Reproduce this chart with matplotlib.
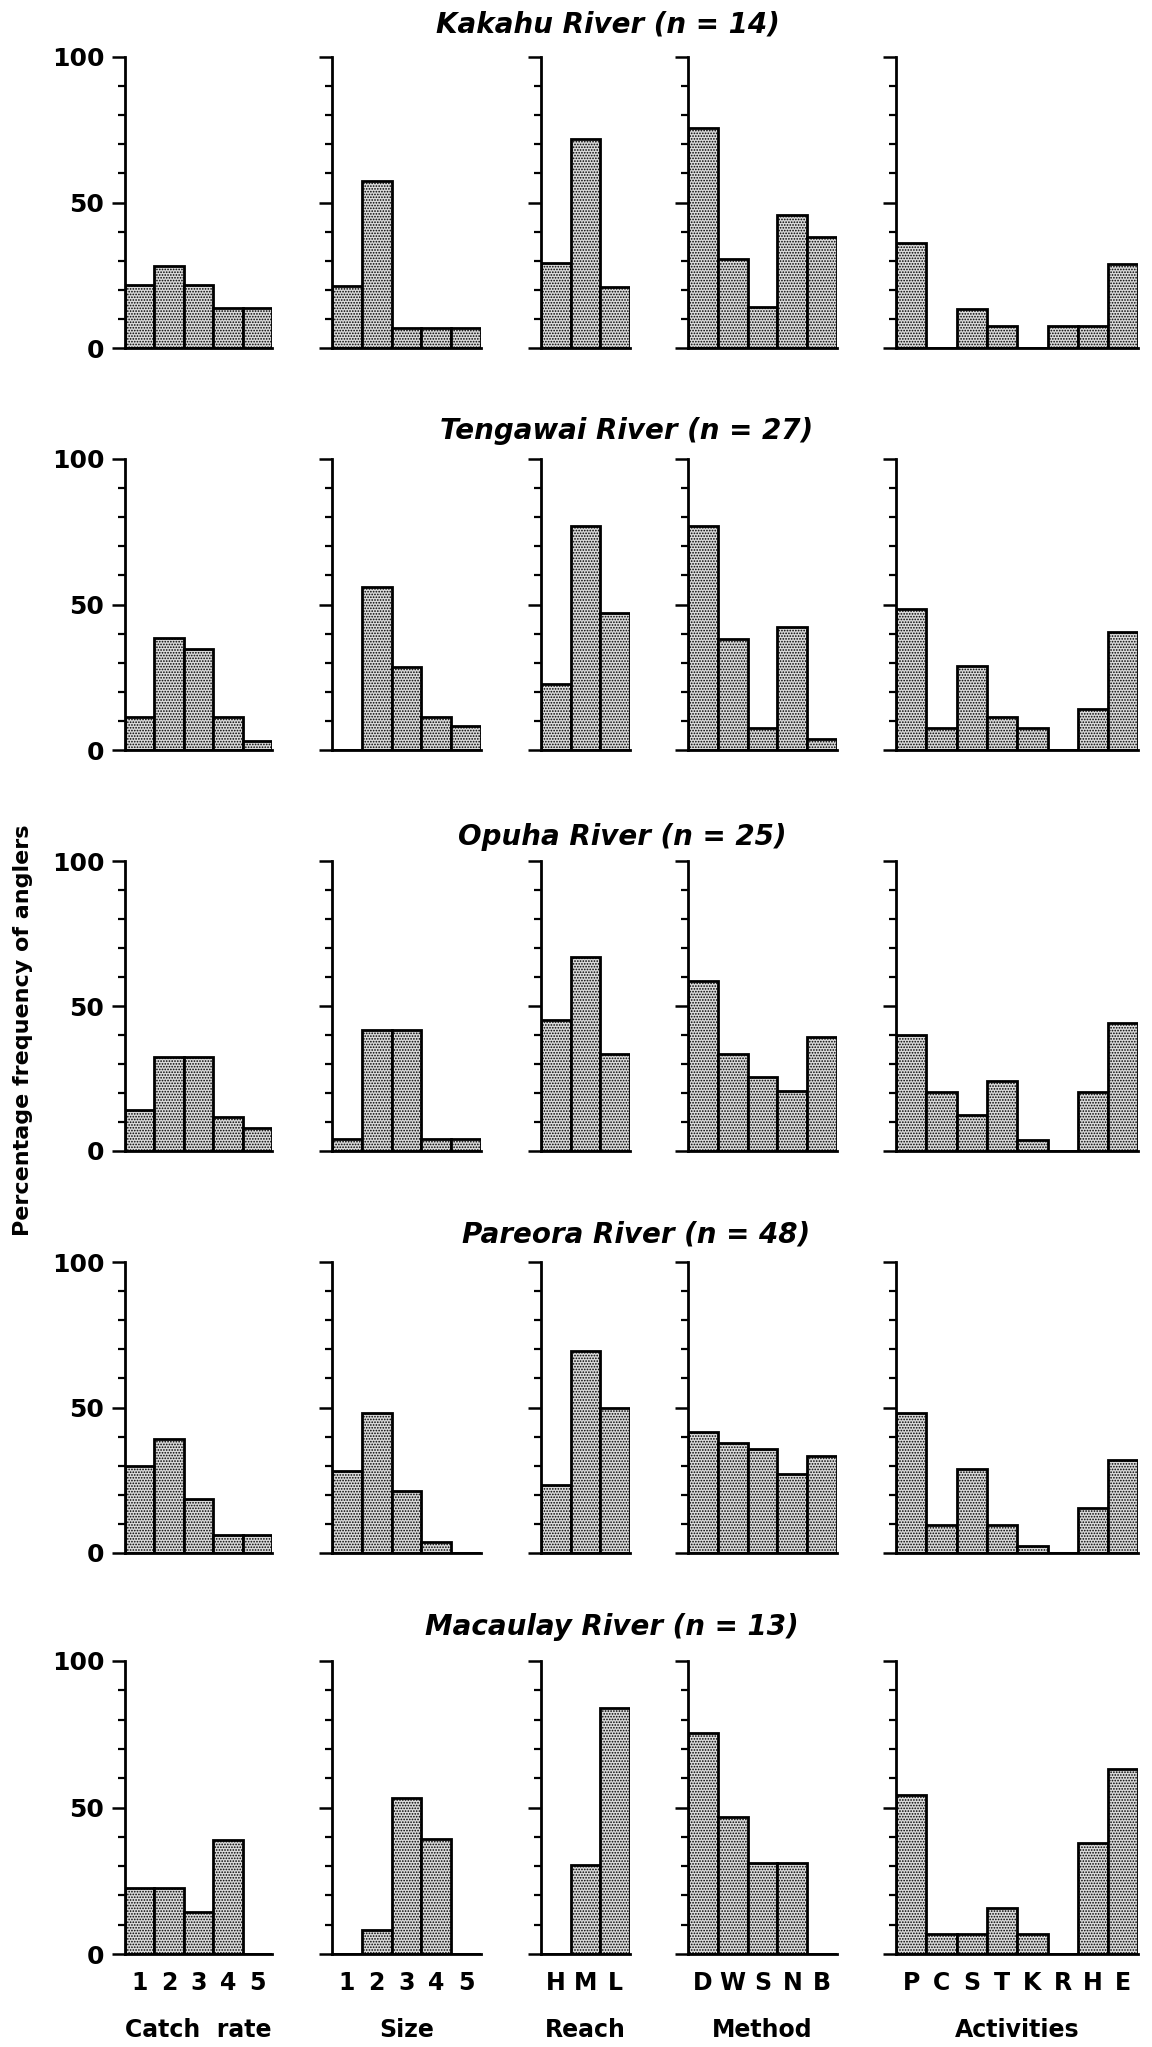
import matplotlib
matplotlib.use("Agg")
import matplotlib.pyplot as plt
import numpy as np

# values (percentage frequency of anglers)
rivers = ["Kakahu", "Tengawai", "Opuha", "Pareora", "Macaulay"]
n_anglers = [14, 27, 25, 48, 13]

catch_labels = ["1", "2", "3", "4", "5"]
size_labels = ["1", "2", "3", "4", "5"]
reach_labels = ["H", "M", "L"]
method_labels = ["D", "W", "S", "N", "B"]
activity_labels = ["P", "C", "S", "T", "K", "R", "H", "E"]
panel_titles = ["Catch  rate", "Size", "Reach", "Method", "Activities"]

catch_rate = [
    [21.7, 28.2, 21.7, 13.7, 13.7],
    [11.2, 38.4, 34.6, 11.5, 3.2],
    [14.1, 32.5, 32.5, 11.8, 7.8],
    [30.0, 39.2, 18.5, 6.1, 6.1],
    [22.4, 22.6, 14.4, 38.9, 0],
]
size = [
    [21.4, 57.5, 6.9, 6.9, 6.9],
    [0, 55.9, 28.4, 11.5, 8.1],
    [4.0, 41.6, 41.6, 4.2, 4.2],
    [28.2, 48.1, 21.3, 3.8, 0],
    [0, 8.3, 53.2, 39.2, 0],
]
reach = [
    [29.1, 71.8, 20.9],
    [22.8, 77.1, 47.0],
    [45.2, 66.9, 33.3],
    [23.3, 69.4, 49.9],
    [0, 30.5, 84.0],
]
method = [
    [75.6, 30.5, 14.1, 45.8, 38.1],
    [76.9, 38.0, 7.7, 42.4, 3.8],
    [58.7, 33.6, 25.5, 20.6, 39.2],
    [41.5, 37.8, 35.6, 27.0, 33.3],
    [75.3, 46.6, 31.0, 31.0, 0],
]
activities = [
    [36.0, 0, 13.5, 7.4, 0, 7.4, 7.4, 28.7],
    [48.3, 7.7, 28.8, 11.4, 7.7, 0, 14.0, 40.5],
    [39.9, 20.2, 12.5, 24.2, 3.8, 0, 20.2, 44.3],
    [48.0, 9.7, 28.7, 9.7, 2.5, 0, 15.5, 31.8],
    [54.3, 6.9, 6.9, 15.8, 6.9, 0, 38.0, 63.2],
]

columns = [(catch_rate, catch_labels), (size, size_labels), (reach, reach_labels),
           (method, method_labels), (activities, activity_labels)]

# layout in pixels
W, H = 1152, 2047
col_x0 = [125, 332, 541, 688, 896]
col_w = [29.4, 29.8, 29.7, 29.8, 30.3]
row_top = [57, 459, 861, 1262, 1661]
row_zero = [348, 750, 1151, 1553, 1954]
title_x = [608, 627, 622, 636, 612]
title_y = [25, 431, 837, 1235, 1627]

plt.rcParams['font.family'] = 'DejaVu Sans'
plt.rcParams['font.weight'] = 'bold'
plt.rcParams['hatch.color'] = '#a6a6a6'
plt.rcParams['hatch.linewidth'] = 0.8

fig = plt.figure(figsize=(W / 100, H / 100), dpi=100)

for i in range(5):
    for j, (data, labels) in enumerate(columns):
        n = len(labels)
        left = col_x0[j] / W
        width = n * col_w[j] / W
        bottom = 1 - row_zero[i] / H
        height = (row_zero[i] - row_top[i]) / H
        ax = fig.add_axes([left, bottom, width, height])
        x = np.arange(n) + 0.5
        ax.bar(x, data[i], width=1.0, color='#dadada', edgecolor='black',
               linewidth=2.0, hatch='......')
        ax.set_xlim(0, n)
        ax.set_ylim(0, 100)
        ax.spines['top'].set_visible(False)
        ax.spines['right'].set_visible(False)
        ax.spines['left'].set_linewidth(2.0)
        ax.spines['bottom'].set_linewidth(2.0)
        ax.set_yticks([0, 50, 100])
        ax.set_yticks(np.arange(0, 101, 10), minor=True)
        ax.tick_params(axis='y', which='major', length=9.5, width=1.8, pad=5.5,
                       labelsize=18)
        ax.tick_params(axis='y', which='minor', length=5, width=1.6)
        if j != 0:
            ax.set_yticklabels([])
        ax.set_xticks(x)
        ax.tick_params(axis='x', length=0, pad=12, labelsize=17)
        if i == 4:
            ax.set_xticklabels(labels)
        else:
            ax.set_xticklabels([])

    fig.text(title_x[i] / W, 1 - title_y[i] / H,
             f"{rivers[i]} River (n = {n_anglers[i]})",
             ha='center', va='center', fontsize=20, fontstyle='italic',
             fontweight='bold')

# axis titles under the bottom row
for j, (data, labels) in enumerate(columns):
    cx = col_x0[j] + len(labels) * col_w[j] / 2
    fig.text(cx / W, 1 - 2030 / H, panel_titles[j], ha='center', va='center',
             fontsize=17, fontweight='bold')

fig.text(23 / W, 1 - 1030 / H, "Percentage frequency of anglers", rotation=90,
         ha='center', va='center', fontsize=16, fontweight='bold')

fig.savefig("out.png", dpi=100)
